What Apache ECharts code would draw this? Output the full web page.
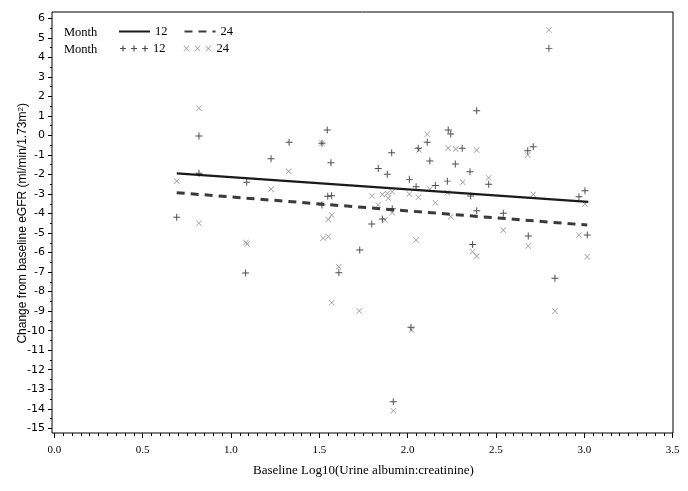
<!DOCTYPE html>
<html><head><meta charset="utf-8">
<script src="https://cdn.jsdelivr.net/npm/echarts@6/dist/echarts.min.js"></script>
<style>html,body{margin:0;padding:0;background:#fff}#c{width:688px;height:491px}</style>
</head><body><div id="c"></div>
<script>
// ---- data ----
const month12Points = [
  [0.693,-4.19],[0.819,-0.03],[0.819,-1.94],[1.083,-7.05],[1.089,-2.40],[1.227,-1.19],
  [1.329,-0.35],[1.545,0.28],[1.515,-0.40],[1.566,-1.40],[1.548,-3.12],[1.570,-3.09],
  [1.515,-3.56],[1.611,-7.03],[1.729,-5.87],[1.797,-4.54],[1.834,-1.69],[1.857,-4.28],
  [1.885,-1.99],[1.910,-0.89],[1.913,-3.75],[2.010,-2.25],[2.048,-2.63],[2.060,-0.66],
  [2.019,-9.83],[1.919,-13.64],[2.111,-0.35],[2.126,-1.31],[2.157,-2.56],[2.225,-2.34],
  [2.230,0.28],[2.244,0.07],[2.309,-0.65],[2.270,-1.46],[2.353,-1.86],[2.357,-3.10],
  [2.368,-5.58],[2.391,1.27],[2.391,-3.86],[2.459,-2.50],[2.542,-3.99],[2.680,-0.78],
  [2.683,-5.15],[2.711,-0.58],[2.800,4.46],[2.970,-3.14],[3.004,-2.83],[3.017,-5.10],
  [2.834,-7.32]
];
const month24Points = [
  [0.819,1.39],[0.693,-2.34],[0.819,-4.50],[1.085,-5.48],[1.093,-5.56],[1.227,-2.75],
  [1.327,-1.84],[1.515,-0.40],[1.570,-4.08],[1.551,-4.30],[1.521,-5.27],[1.551,-5.19],
  [1.610,-6.73],[1.570,-8.57],[1.726,-8.99],[1.798,-3.09],[1.834,-3.56],[1.857,-3.02],
  [1.885,-2.97],[1.891,-3.22],[1.872,-4.33],[1.913,-2.88],[1.913,-3.96],[2.010,-3.00],
  [2.048,-5.36],[2.061,-3.17],[2.065,-0.74],[2.111,0.06],[2.126,-2.76],[2.157,-3.45],
  [2.225,-2.93],[2.230,-0.65],[2.272,-0.70],[2.312,-2.40],[2.244,-4.16],[2.368,-5.96],
  [2.391,-6.18],[2.391,-0.75],[2.459,-2.17],[2.542,-4.85],[2.680,-1.00],[2.683,-5.66],
  [2.800,5.40],[2.711,-3.02],[3.004,-3.51],[2.970,-5.10],[3.017,-6.21],[2.834,-8.99],
  [2.023,-9.97],[1.919,-14.10]
];
const fit12 = [[0.693,-1.94],[3.023,-3.40]];
const fit24 = [[0.693,-2.93],[3.017,-4.59]];
const seriesNames = ['12','24'];
const legendTitle = 'Month';
const xTickValues = [0,0.5,1,1.5,2,2.5,3,3.5];
const yTickValues = [-15,-14,-13,-12,-11,-10,-9,-8,-7,-6,-5,-4,-3,-2,-1,0,1,2,3,4,5,6];
const xTitle = 'Baseline Log10(Urine albumin:creatinine)';
const yTitle = 'Change from baseline eGFR (ml/min/1.73m{sup|2})';

// ---- marker shapes ----
const plusPath = 'path://M4.3,0H5.7V4.3H10V5.7H5.7V10H4.3V5.7H0V4.3H4.3Z';
const xPath = 'path://M0,0.9L0.9,0L5,4.1L9.1,0L10,0.9L5.9,5L10,9.1L9.1,10L5,5.9L0.9,10L0,9.1L4.1,5Z';
function triplePlus(){
  let p='path://';
  [3,14,25].forEach(c=>{
    p+=`M${c-0.6},0H${c+0.6}V2.4H${c+3}V3.6H${c+0.6}V6H${c-0.6}V3.6H${c-3}V2.4H${c-0.6}Z`;
  });
  return p;
}
function tripleX(){
  let p='path://';
  [3,14,25].forEach(c=>{
    const o=c-3;
    const pts=[[0,0.6],[0.6,0],[3,2.4],[5.4,0],[6,0.6],[3.6,3],[6,5.4],[5.4,6],[3,3.6],[0.6,6],[0,5.4],[2.4,3]];
    p+='M'+pts.map(q=>(q[0]+o).toFixed(2)+','+q[1]).join('L')+'Z';
  });
  return p;
}

const chart = echarts.init(document.getElementById('c'), null, {renderer:'canvas'});
const serif = 'Liberation Serif';
chart.setOption({
  animation:false,
  backgroundColor:'#fff',
  title:[
    {text:legendTitle,left:64,top:26,padding:0,textStyle:{fontFamily:serif,fontSize:12.5,fontWeight:'normal',color:'#000'}},
    {text:legendTitle,left:64,top:43,padding:0,textStyle:{fontFamily:serif,fontSize:12.5,fontWeight:'normal',color:'#000'}}
  ],
  legend:[
    {data:['L12','L24'],left:118,top:25,padding:0,itemWidth:31,itemHeight:14,itemGap:16,selectedMode:false,
     itemStyle:{color:'transparent',borderColor:'transparent',borderWidth:0},
     formatter:n=>n.slice(1),textStyle:{fontFamily:serif,fontSize:12.5,color:'#000'}},
    {data:[{name:'P12',icon:triplePlus()},{name:'P24',icon:tripleX()}],left:120,top:42,padding:0,
     itemWidth:28,itemHeight:6,itemGap:18,selectedMode:false,
     formatter:n=>n.slice(1),textStyle:{fontFamily:serif,fontSize:12.5,color:'#000'}}
  ],
  grid:[
    {left:52,right:15,top:12,bottom:58,show:true,borderColor:'#000',borderWidth:1,backgroundColor:'transparent'},
    {left:54.3,right:15.4,top:18.3,bottom:62.7,show:false}
  ],
  xAxis:[
    {gridIndex:0,type:'value',min:-0.013,max:3.5023,show:false},
    {gridIndex:1,type:'value',position:'bottom',min:xTickValues[0],max:xTickValues[xTickValues.length-1],interval:0.5,offset:4.7,
     axisLine:{show:false,onZero:false},
     axisTick:{show:true,length:5,lineStyle:{color:'#000'}},
     minorTick:{show:true,splitNumber:10,length:3,lineStyle:{color:'#000'}},
     splitLine:{show:false},
     axisLabel:{fontFamily:serif,fontSize:11,color:'#000',margin:12,formatter:v=>v.toFixed(1)},
     name:xTitle,nameLocation:'middle',nameGap:31,nameMoveOverlap:false,
     nameTextStyle:{fontFamily:serif,fontSize:13,color:'#000'}}
  ],
  yAxis:[
    {gridIndex:0,type:'value',min:-15.241,max:6.323,show:false},
    {gridIndex:1,type:'value',position:'left',min:yTickValues[0],max:yTickValues[yTickValues.length-1],interval:1,offset:2.3,
     axisLine:{show:false,onZero:false},
     axisTick:{show:true,length:4,lineStyle:{color:'#000'}},
     minorTick:{show:true,splitNumber:2,length:2,lineStyle:{color:'#000'}},
     splitLine:{show:false},
     axisLabel:{fontFamily:'DejaVu Sans',fontSize:11,color:'#000',margin:7},
     name:yTitle,nameLocation:'middle',nameGap:23,nameMoveOverlap:false,
     nameTextStyle:{fontFamily:'Liberation Sans',fontSize:12,color:'#000',
       rich:{sup:{fontFamily:'Liberation Sans',fontSize:8,color:'#000',verticalAlign:'top'}}}}
  ],
  series:[
    {name:'P24',type:'scatter',xAxisIndex:0,yAxisIndex:0,data:month24Points,symbol:xPath,symbolSize:6,
     itemStyle:{color:'#8a8a8a'},z:2},
    {name:'P12',type:'scatter',xAxisIndex:0,yAxisIndex:0,data:month12Points,symbol:plusPath,symbolSize:7,
     itemStyle:{color:'#222'},z:3},
    {name:'L12',type:'line',xAxisIndex:0,yAxisIndex:0,data:fit12,symbol:'none',
     itemStyle:{color:'#1a1a1a'},
     lineStyle:{color:'#1a1a1a',width:2.2,type:'solid'},z:4},
    {name:'L24',type:'line',xAxisIndex:0,yAxisIndex:0,data:fit24,symbol:'none',
     itemStyle:{color:'#3a3a3a'},
     lineStyle:{color:'#3a3a3a',width:3,type:[8,6]},z:4}
  ]
});
</script>
</body></html>
